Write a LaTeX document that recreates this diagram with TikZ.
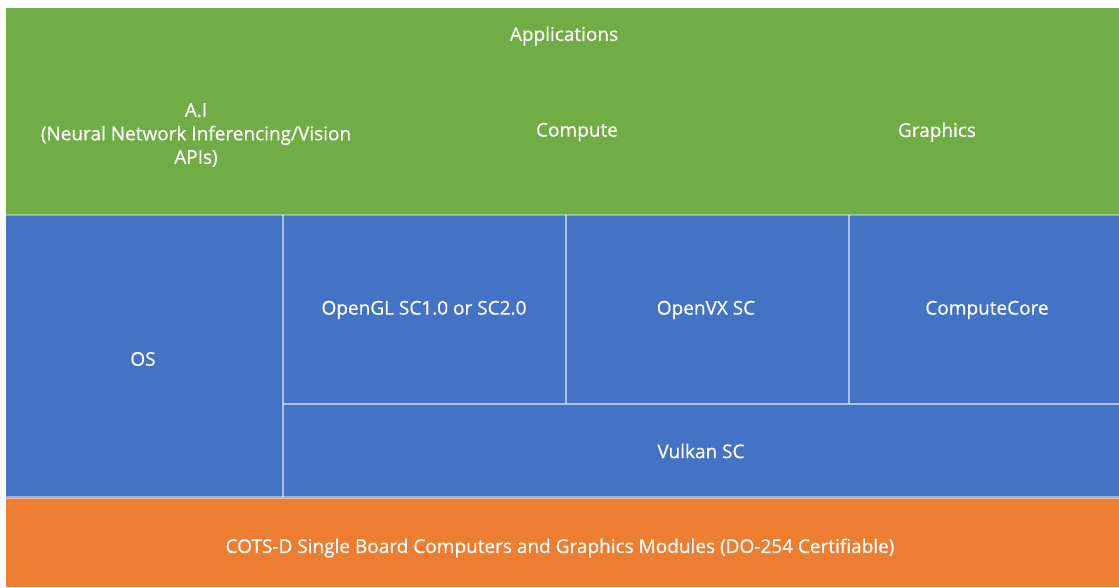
\documentclass[tikz,border=0pt]{standalone}
\usepackage{fontspec}
\setmainfont{Open Sans}
\newfontfamily\lblfont{Open Sans}[FakeBold=0.5]
\definecolor{appgreen}{HTML}{70AD47}
\definecolor{layblue}{HTML}{4472C4}
\definecolor{hworange}{HTML}{ED7D31}
\begin{document}
\begin{tikzpicture}[x=1pt,y=-1pt,
  lbl/.style={text=white,font=\lblfont\fontsize{19}{23.5}\selectfont,align=center,inner sep=0pt},
  sep/.style={draw=white,draw opacity=0.55,line width=2.2pt}]
\useasboundingbox (0,0) rectangle (1119,587);
\fill[white] (0,0) rectangle (1119,587);
% regions
\fill[appgreen] (6,8) rectangle (1119,215);
\fill[layblue] (6,215) rectangle (1119,498);
\fill[hworange] (6,498) rectangle (1119,587);
% separators
\coordinate (v1t) at (283,215);
\coordinate (v1b) at (283,497);
\coordinate (v2t) at (566,215);
\coordinate (v2b) at (566,404);
\coordinate (v3t) at (849,215);
\coordinate (v3b) at (849,404);
\coordinate (hl) at (283,404);
\coordinate (hr) at (1119,404);
\coordinate (gl) at (6,215);
\coordinate (gr) at (1119,215);
\coordinate (ol) at (6,497.5);
\coordinate (or) at (1119,497.5);
\draw[sep,draw opacity=0.35] (gl) -- (gr);
\draw[sep] (v1t) -- (v1b);
\draw[sep] (v2t) -- (v2b);
\draw[sep] (v3t) -- (v3b);
\draw[sep] (hl) -- (hr);
\draw[sep,draw opacity=0.45] (ol) -- (or);
% labels
\node[lbl] (apps) at (564,36) {Applications};
\node[lbl] (ai) at (196,135) {A.I\\(Neural Network Inferencing/Vision\\APIs)};
\node[lbl] (compute) at (577,132) {Compute};
\node[lbl] (graphics) at (937,132) {Graphics};
\node[lbl] (os) at (143,359) {OS};
\node[lbl] (ogl) at (424,310) {OpenGL SC1.0 or SC2.0};
\node[lbl] (ovx) at (706,310) {OpenVX SC};
\node[lbl] (cc) at (987,310) {ComputeCore};
\node[lbl] (vk) at (701,451) {Vulkan SC};
\node[lbl] (cots) at (560,548) {COTS-D Single Board Computers and Graphics Modules (DO-254 Certifiable)};
\end{tikzpicture}
\end{document}
